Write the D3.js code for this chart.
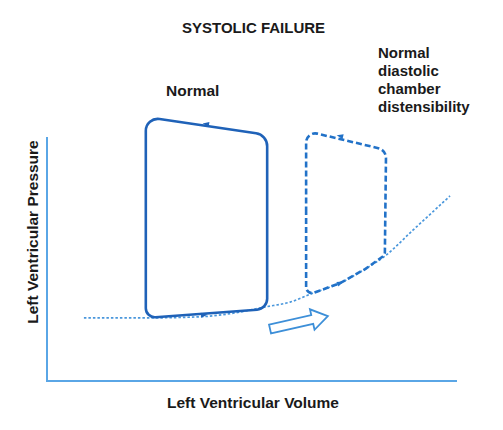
<!DOCTYPE html>
<html>
<head>
<meta charset="utf-8">
<script src="https://cdn.jsdelivr.net/npm/d3@7"></script>
<style>
  html, body { margin: 0; padding: 0; background: #ffffff; }
  svg { display: block; }
  text { font-family: "Liberation Sans", Arial, Helvetica, sans-serif; font-weight: bold; fill: #1a1a1a; }
</style>
</head>
<body>
<script>
// ---- data (volume units 0-100, pressure units 0-100) ----
const edpvrVolume   = [9, 24, 37, 47, 53, 59.3, 64.9, 71.5, 77.6, 82.4, 89.3, 98.3];
const edpvrPressure = [23.9, 23.9, 24.3, 26.1, 28.0, 29.9, 33.3, 37.1, 42.4, 47.3, 57.2, 70.1];

// Normal PV loop corners: top-left, top-right, bottom-right, bottom-left
const normalLoopVolume   = [24.1, 53.7, 53.7, 24.1];
const normalLoopPressure = [100, 93.2, 27.3, 23.9];

// Systolic failure loop (dashed): top-left, top-right, right-bottom, then along EDPVR back to bottom-left
const failLoopVolume   = [63.2, 82.7, 82.4, 77.6, 71.5, 64.9, 63.2];
const failLoopPressure = [94.7, 87.5, 47.7, 42.4, 37.1, 33.3, 33.0];

// direction markers on the loops
const markerVolume   = [38.8, 38.3, 71.5, 71.5];
const markerPressure = [97.3, 25.0, 92.8, 37.1];
const markerLoop     = ["normal", "normal", "fail", "fail"];
const markerDir      = [-1, 1, -1, 1];

// hollow shift arrow: tail -> tip
const shiftArrowVolume   = [54.4, 68.5];
const shiftArrowPressure = [19.7, 24.6];

const titleText = "SYSTOLIC FAILURE";
const normalLabel = ["Normal"];
const failLabel = ["Normal", "diastolic", "chamber", "distensibility"];
const xAxisLabel = "Left Ventricular Volume";
const yAxisLabel = "Left Ventricular Pressure";

// ---- layout ----
const W = 503, H = 430;
const x = d3.scaleLinear().domain([0, 100]).range([47, 457]);
const y = d3.scaleLinear().domain([0, 100]).range([381, 117]);
const yAxisTop = 92.4;

const svg = d3.select("body").append("svg").attr("width", W).attr("height", H);

const axisColor = "#5aa6e6";
const loopColor = "#1f62b8";
const failColor = "#2272c8";
const curveColor = "#4a97dc";

// axes (domain lines only)
const axisPath = d3.path();
axisPath.moveTo(x(0), y(yAxisTop));
axisPath.lineTo(x(0), y(0));
axisPath.lineTo(x(100), y(0));
svg.append("path").attr("d", axisPath.toString())
  .attr("fill", "none").attr("stroke", axisColor).attr("stroke-width", 2);

// EDPVR dotted curve
const edpvr = edpvrVolume.map((v, i) => [v, edpvrPressure[i]]);
const lineGen = d3.line().x(d => x(d[0])).y(d => y(d[1])).curve(d3.curveMonotoneX);
svg.append("path").attr("d", lineGen(edpvr))
  .attr("fill", "none").attr("stroke", curveColor).attr("stroke-width", 1.7)
  .attr("stroke-dasharray", "2.5,2");

// rounded polygon helper (d3.path arcTo)
function roundedPoly(pts, radii) {
  const p = d3.path();
  const n = pts.length;
  const mid = [(pts[n - 1][0] + pts[0][0]) / 2, (pts[n - 1][1] + pts[0][1]) / 2];
  p.moveTo(mid[0], mid[1]);
  for (let i = 0; i < n; i++) {
    const cur = pts[i], nxt = pts[(i + 1) % n];
    if (radii[i] > 0) p.arcTo(cur[0], cur[1], nxt[0], nxt[1], radii[i]);
    else p.lineTo(cur[0], cur[1]);
  }
  p.closePath();
  return p.toString();
}

const normalPts = normalLoopVolume.map((v, i) => [x(v), y(normalLoopPressure[i])]);
svg.append("path").attr("d", roundedPoly(normalPts, [12, 13, 11, 9]))
  .attr("fill", "none").attr("stroke", loopColor).attr("stroke-width", 2.6);

const failPts = failLoopVolume.map((v, i) => [x(v), y(failLoopPressure[i])]);
svg.append("path").attr("d", roundedPoly(failPts, [9, 10, 5, 0, 0, 0, 6]))
  .attr("fill", "none").attr("stroke", failColor).attr("stroke-width", 2.6)
  .attr("stroke-dasharray", "6,3");

// direction markers
markerVolume.forEach((v, i) => {
  const px = x(v), py = y(markerPressure[i]);
  let ang;
  if (markerLoop[i] === "normal") {
    ang = i === 0 ? Math.atan2(normalPts[1][1] - normalPts[0][1], normalPts[1][0] - normalPts[0][0])
                  : Math.atan2(normalPts[2][1] - normalPts[3][1], normalPts[2][0] - normalPts[3][0]);
  } else {
    ang = i === 2 ? Math.atan2(failPts[1][1] - failPts[0][1], failPts[1][0] - failPts[0][0])
                  : Math.atan2(failPts[3][1] - failPts[5][1], failPts[3][0] - failPts[5][0]);
  }
  const deg = ang * 180 / Math.PI + (markerDir[i] < 0 ? 180 : 0);
  svg.append("path")
    .attr("d", "M3.5,0 L-3,-2.5 L-3,2.5 Z")
    .attr("transform", `translate(${px},${py}) rotate(${deg})`)
    .attr("fill", markerLoop[i] === "normal" ? loopColor : failColor);
});

// hollow block arrow
{
  const x0 = x(shiftArrowVolume[0]), y0 = y(shiftArrowPressure[0]);
  const x1 = x(shiftArrowVolume[1]), y1 = y(shiftArrowPressure[1]);
  const len = Math.hypot(x1 - x0, y1 - y0);
  const deg = Math.atan2(y1 - y0, x1 - x0) * 180 / Math.PI;
  const sw = 4.5, hw = 10.5, hl = 16;
  const shape = [[0, -sw], [len - hl, -sw], [len - hl, -hw], [len, 0], [len - hl, hw], [len - hl, sw], [0, sw]];
  svg.append("path")
    .attr("d", d3.line()(shape) + "Z")
    .attr("transform", `translate(${x0},${y0}) rotate(${deg})`)
    .attr("fill", "#ffffff").attr("stroke", "#3d8fd8").attr("stroke-width", 1.8)
    .attr("stroke-linejoin", "miter");
}

// texts
svg.append("text").attr("x", 182).attr("y", 33).attr("font-size", 15).text(titleText);

svg.append("text").attr("x", 166).attr("y", 96).attr("font-size", 15.5).text(normalLabel[0]);

svg.append("g").selectAll("text").data(failLabel).join("text")
  .attr("x", 378).attr("y", (d, i) => 58 + i * 18).attr("font-size", 15).text(d => d);

svg.append("text").attr("x", 253).attr("y", 408).attr("text-anchor", "middle")
  .attr("font-size", 15.5).text(xAxisLabel);

svg.append("text").attr("transform", "translate(38,232) rotate(-90)")
  .attr("text-anchor", "middle").attr("font-size", 15.5).text(yAxisLabel);
</script>
</body>
</html>
